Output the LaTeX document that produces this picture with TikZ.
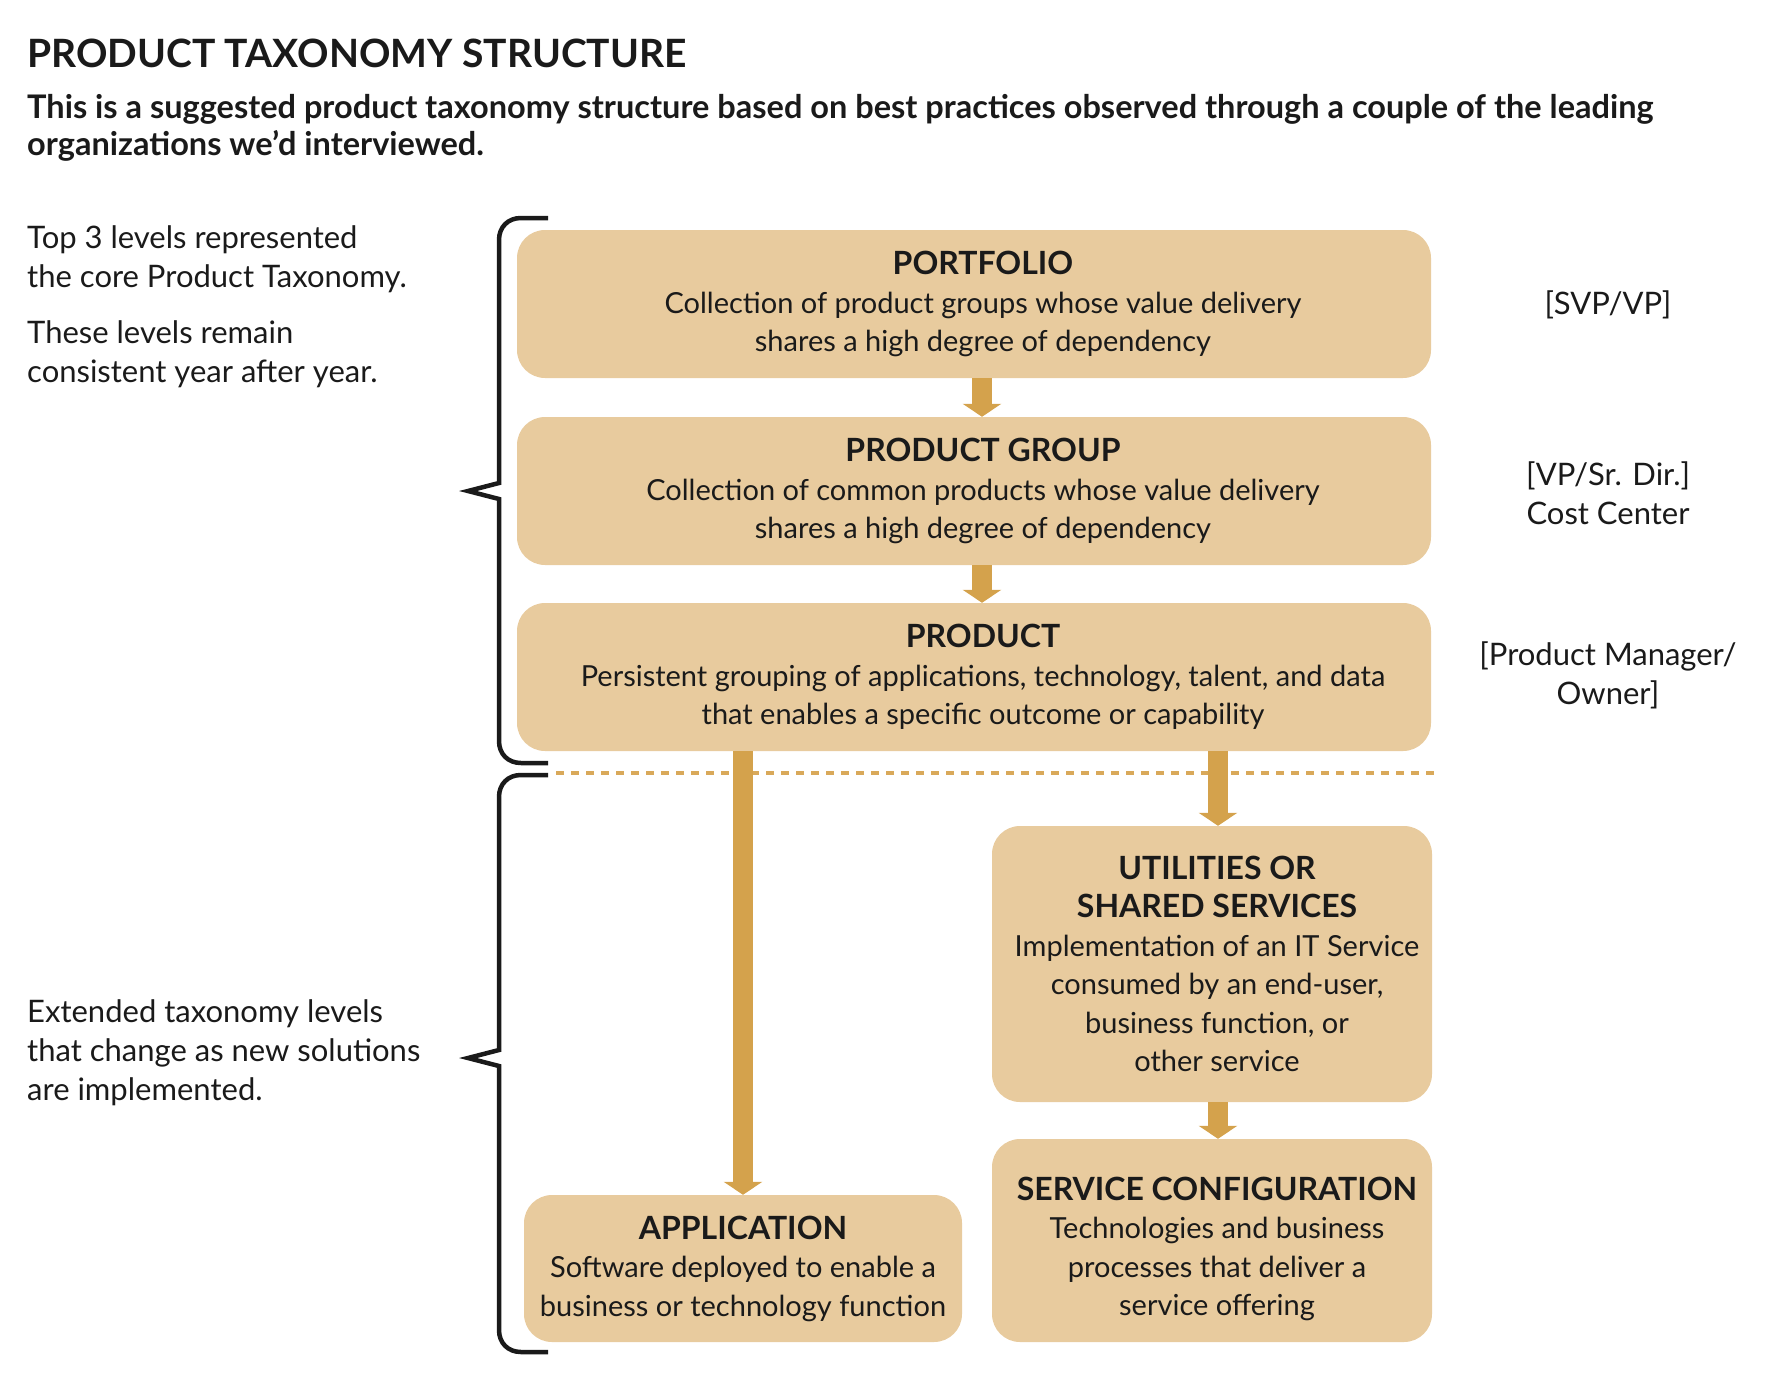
\documentclass[tikz,border=0pt]{standalone}
\usepackage{fontspec}
\setmainfont{Lato}
\usetikzlibrary{arrows.meta}
\definecolor{boxc}{HTML}{E8CB9E}
\definecolor{arrc}{HTML}{D4A24C}
\definecolor{dotc}{HTML}{D9A95A}
\definecolor{ink}{HTML}{1A1A1A}
\newcommand{\titlef}{\fontsize{39}{40}\selectfont\bfseries}
\newcommand{\subf}{\fontsize{32.5}{37}\selectfont\bfseries}
\newcommand{\sidef}{\fontsize{31}{39}\selectfont}
\newcommand{\bodyf}{\fontsize{29}{38.5}\selectfont}
\newcommand{\headf}{\fontsize{32}{38.5}\selectfont\bfseries}
% pushes a centred line to the right by half the given amount
\newcommand{\rt}[1]{\hspace*{#1}}
\tikzset{
  box/.style={fill=boxc, rounded corners=28pt, align=center, inner sep=0pt, text=ink, font=\bodyf},
  arr/.style={draw=arrc, line width=20pt, -{Triangle[width=38pt,length=13pt]}},
  brace/.style={draw=ink, line width=4.5pt, line join=miter},
  side/.style={font=\sidef, text=ink, inner sep=0pt}
}
\begin{document}
\begin{tikzpicture}[x=1pt,y=-1pt]
\useasboundingbox (0,0) rectangle (1768,1384);
% headings (base anchor = baseline of the last line)
\node[anchor=base west, font=\titlef, text=ink, inner sep=0pt] (title) at (27,67) {PRODUCT TAXONOMY STRUCTURE};
\node[anchor=base west, font=\subf, text=ink, inner sep=0pt, align=left] (sub) at (27,155)
  {This is a suggested product taxonomy structure based on best practices observed through a couple of the leading\\organizations we’d interviewed.};
% side texts
\node[side, anchor=base west, align=left] (t1) at (27,287) {Top 3 levels represented\\the core Product Taxonomy.};
\node[side, anchor=base west, align=left] (t2) at (27,382) {These levels remain\\consistent year after year.};
\node[side, anchor=base west, align=left] (t3) at (27,1100) {Extended taxonomy levels\\that change as new solutions\\are implemented.};
\node[side, align=center] (r1) at (1608,305) {[SVP/VP]};
\node[side, align=center] (r2) at (1608,493) {[VP/Sr. Dir.]\\Cost Center};
\node[side, align=center] (r3) at (1608,675) {[Product Manager/\\Owner]};
% dotted separator
\draw[dotc, line width=4.5pt, dash pattern=on 8pt off 7pt] (556,773) -- (1437,773);
% boxes
\node[box, minimum width=914pt, minimum height=148pt] (pf) at (974,304)
  {\rt{18pt}{\headf PORTFOLIO}\\\rt{18pt}Collection of product groups whose value delivery\\\rt{18pt}shares a high degree of dependency};
\node[box, minimum width=914pt, minimum height=148pt] (pg) at (974,491)
  {\rt{18pt}{\headf PRODUCT GROUP}\\\rt{18pt}Collection of common products whose value delivery\\\rt{18pt}shares a high degree of dependency};
\node[box, minimum width=914pt, minimum height=148pt] (pr) at (974,677)
  {\rt{18pt}{\headf PRODUCT}\\\rt{18pt}Persistent grouping of applications, technology, talent, and data\\\rt{18pt}that enables a specific outcome or capability};
\node[box, minimum width=440pt, minimum height=276pt] (ut) at (1212,964)
  {\rt{10pt}{\headf UTILITIES OR}\\\rt{10pt}{\headf SHARED SERVICES}\\\rt{10pt}Implementation of an IT Service\\\rt{10pt}consumed by an end-user,\\\rt{10pt}business function, or\\\rt{10pt}other service};
\node[box, minimum width=440pt, minimum height=203pt] (sc) at (1212,1240.5)
  {\rule{0pt}{40pt}\rt{10pt}{\headf SERVICE CONFIGURATION}\\\rt{10pt}Technologies and business\\\rt{10pt}processes that deliver a\\\rt{10pt}service offering};
\node[box, minimum width=438pt, minimum height=147pt] (ap) at (743,1268.5)
  {{\headf APPLICATION}\\Software deployed to enable a\\business or technology function};
% arrows
\draw[arr] ([xshift=8pt]pf.south) -- ([xshift=8pt]pg.north);
\draw[arr] ([xshift=8pt]pg.south) -- ([xshift=8pt]pr.north);
\draw[arr] (pr.south -| ap.north) -- (ap.north);
\draw[arr] ([xshift=6pt]pr.south -| ut.north) -- ([xshift=6pt]ut.north);
\draw[arr] ([xshift=6pt]ut.south) -- ([xshift=6pt]sc.north);
% braces
\draw[brace] (548,218) -- (521,218) .. controls (508,218) and (499,227) .. (499,240) -- (499,483) -- (468,491) -- (499,499) -- (499,741) .. controls (499,754) and (508,763) .. (521,763) -- (548,763);
\draw[brace] (548,775) -- (521,775) .. controls (508,775) and (499,784) .. (499,797) -- (499,1050) -- (468,1058) -- (499,1066) -- (499,1330) .. controls (499,1343) and (508,1352) .. (521,1352) -- (548,1352);
\end{tikzpicture}
\end{document}
